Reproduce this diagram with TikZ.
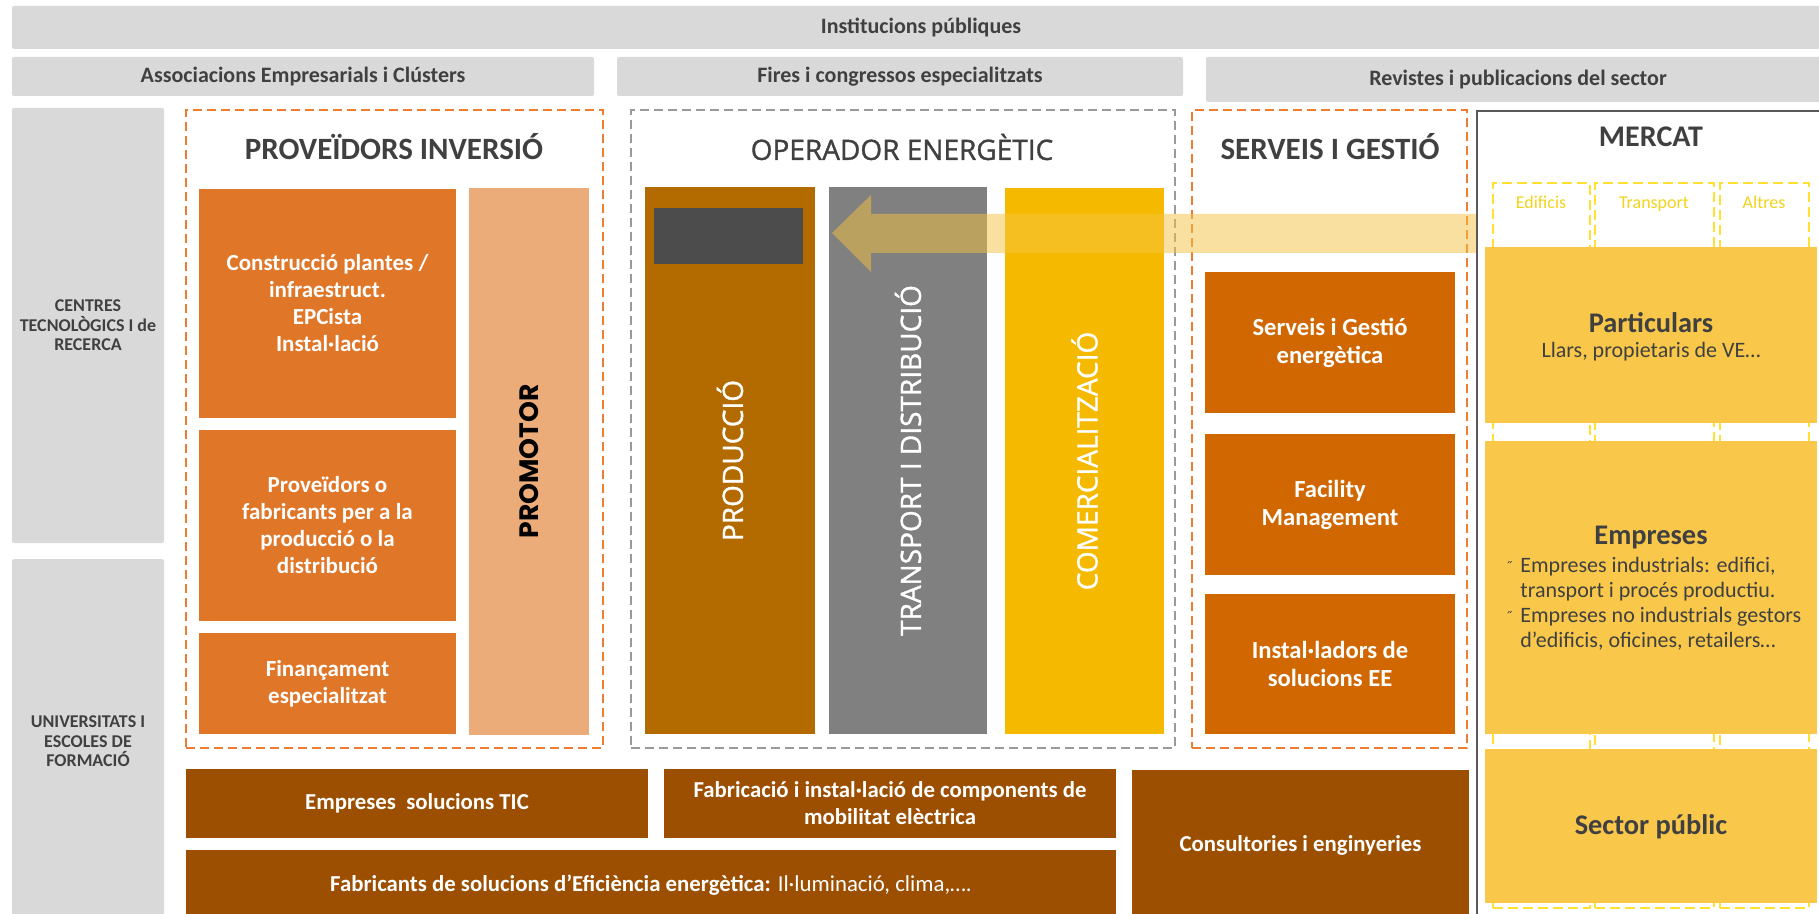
\documentclass[tikz,border=0pt]{standalone}
\usepackage{fontspec}
\setmainfont{Carlito}
\newfontfamily\rotfont[FakeBold=1.2]{Open Sans}
\newfontfamily\promofont{Poppins}
\usetikzlibrary{positioning}
\definecolor{bargrey}{HTML}{D9D9D9}
\definecolor{darktext}{HTML}{404040}
\definecolor{invorange}{HTML}{E07628}
\definecolor{promoorange}{HTML}{EBAC7A}
\definecolor{prodbrown}{HTML}{B36B00}
\definecolor{transgrey}{HTML}{808080}
\definecolor{comyellow}{HTML}{F5BA00}
\definecolor{servorange}{HTML}{D16700}
\definecolor{basebrown}{HTML}{9C4F00}
\definecolor{marketyellow}{HTML}{F9C84B}
\definecolor{frameorange}{HTML}{ED7D31}
\definecolor{framegrey}{HTML}{9A9A9A}
\definecolor{mercatgrey}{HTML}{595959}
\definecolor{dashyellow}{HTML}{FFE033}
\definecolor{labelyellow}{HTML}{F2D31B}
\definecolor{arrowyellow}{HTML}{F5C242}
\tikzset{
    wh/.style 2 args={minimum width=#1*0.5pt, minimum height=#2*0.5pt}
}
\tikzstyle{block} = [
    anchor=north west,
    inner sep=0pt,
    outer sep=0pt,
    align=center
]
\tikzstyle{grey_bar} = [
    block,
    fill=bargrey,
    rounded corners=1pt,
    text=darktext,
    font=\bfseries\fontsize{11}{12}\selectfont
]
\tikzstyle{side_bar} = [
    grey_bar,
    font=\bfseries\fontsize{9}{9.7}\selectfont
]
\tikzstyle{dash_frame} = [
    block,
    draw=frameorange,
    line width=1pt,
    dash pattern=on 4.5pt off 2.5pt
]
\tikzstyle{frame_title} = [
    text=darktext,
    font=\bfseries\fontsize{15.5}{17}\selectfont
]
\tikzstyle{inv_box} = [
    block,
    fill=invorange,
    text=white,
    font=\bfseries\fontsize{11.5}{13.5}\selectfont
]
\tikzstyle{oper_box} = [
    block
]
\tikzstyle{rot_label} = [
    rotate=90,
    text=white,
    font=\rotfont\fontsize{14}{16}\selectfont
]
\tikzstyle{serv_box} = [
    inv_box,
    fill=servorange,
    font=\bfseries\fontsize{12.3}{14}\selectfont
]
\tikzstyle{base_box} = [
    inv_box,
    fill=basebrown,
    font=\bfseries\fontsize{11.4}{13.5}\selectfont
]
\tikzstyle{col_frame} = [
    block,
    draw=dashyellow,
    line width=0.8pt,
    dash pattern=on 5pt off 2.5pt
]
\tikzstyle{col_label} = [
    text=labelyellow,
    text height=1.6ex,
    text depth=0.4ex,
    font=\fontsize{9}{10}\selectfont
]
\tikzstyle{market_box} = [
    block,
    fill=marketyellow
]
\tikzstyle{market_title} = [
    text=darktext,
    font=\bfseries\fontsize{14.2}{16}\selectfont
]
\tikzstyle{market_text} = [
    text=darktext,
    inner sep=0pt,
    font=\fontsize{11}{12.5}\selectfont
]

\begin{document}
\begin{tikzpicture}[x=0.5pt, y=-0.5pt]
\useasboundingbox (0,0) rectangle (1819,914);
\clip (0,0) rectangle (1819,914);

% agents around the value chain
\node[grey_bar, wh={1818}{43}] (inst) at (12,6) {Institucions públiques};
\node[grey_bar, wh={582}{39}] (assoc) at (12,57) {Associacions Empresarials i Clústers};
\node[grey_bar, wh={566}{39}] (fires) at (617,57) {Fires i congressos especialitzats};
\node[grey_bar, wh={624}{45}] (revistes) at (1206,57) {Revistes i publicacions del sector};
\node[side_bar, wh={152}{435}] (centres) at (12,108) {CENTRES\\TECNOLÒGICS I de\\RECERCA};
\node[side_bar, wh={152}{365}] (univ) at (12,559) {UNIVERSITATS I\\ESCOLES DE\\FORMACIÓ};

% proveidors inversio
\node[dash_frame, wh={417}{638}] (prov_frame) at (186,110) {};
\node[frame_title] (prov_title) at (394,147) {PROVEÏDORS INVERSIÓ};
\node[inv_box, wh={257}{229}] (constr) at (199,189) {Construcció plantes /\\infraestruct.\\EPCista\\Instal·lació};
\node[inv_box, wh={257}{191}] (fabr) at (199,430) {Proveïdors o\\fabricants per a la\\producció o la\\distribució};
\node[inv_box, wh={257}{101}] (finan) at (199,633) {Finançament\\especialitzat};
\node[block, fill=promoorange, wh={120}{547}] (promotor) at (469,188) {};
\node[rotate=90, font=\promofont\bfseries\fontsize{13.3}{15}\selectfont] (promotor_label) at (promotor.center) {PROMOTOR};

% operador energetic
\node[dash_frame, draw=framegrey, wh={544}{638}] (oper_frame) at (631,110) {};
\node[frame_title, font=\rotfont\fontsize{14}{16}\selectfont] (oper_title) at (902,147) {OPERADOR ENERGÈTIC};
\node[oper_box, fill=prodbrown, wh={170}{547}] (prod) at (645,187) {};
\node[oper_box, fill=black!70, wh={149}{56}] (prod_screen) at (654,208) {};
\node[rot_label] (prod_label) at (prod.center) {PRODUCCIÓ};
\node[oper_box, fill=transgrey, wh={158}{547}] (transp) at (829,187) {};
\node[rot_label] (transp_label) at (transp.center) {TRANSPORT I DISTRIBUCIÓ};
\node[oper_box, fill=comyellow, wh={159}{546}] (comerc) at (1005,188) {};
\node[rot_label] (comerc_label) at (comerc.center) {COMERCIALITZACIÓ};

% serveis i gestio
\node[dash_frame, wh={275}{638}] (serv_frame) at (1192,110) {};
\node[frame_title] (serv_title) at (1330,147) {SERVEIS I GESTIÓ};
\node[serv_box, wh={250}{141}] (gestio) at (1205,272) {Serveis i Gestió\\energètica};
\node[serv_box, wh={250}{141}] (facility) at (1205,434) {Facility\\Management};
\node[serv_box, wh={250}{140}] (installers) at (1205,594) {Instal·ladors de\\solucions EE};

% transversal suppliers
\node[base_box, wh={462}{69}] (tic) at (186,769) {Empreses\ \ solucions TIC};
\node[base_box, wh={452}{69}] (mobility) at (664,769) {Fabricació i instal·lació de components de\\mobilitat elèctrica};
\node[base_box, wh={930}{70}, font=\fontsize{11.4}{12}\selectfont] (efficiency) at (186,850) {\textbf{Fabricants de solucions d’Eficiència energètica:} Il·luminació, clima,….};
\node[base_box, wh={337}{150}] (consult) at (1132,770) {Consultories i enginyeries};

% flow from the market
\fill[arrowyellow, opacity=0.5] (1477,214) -- (871,214) -- (871,195) -- (832,233) -- (871,272) -- (871,253) -- (1477,253) -- cycle;

% mercat
\node[block, draw=mercatgrey, line width=1pt, wh={370}{830}] (mercat_frame) at (1477,111) {};
\node[market_title, font=\bfseries\fontsize{15}{16}\selectfont] (mercat_title) at (1651,137) {MERCAT};
\node[col_frame, wh={97}{725}] (edificis) at (1493,183) {};
\node[col_frame, wh={119}{725}] (transport) at (1595,183) {};
\node[col_frame, wh={89}{725}] (altres) at (1720,183) {};
\node[col_label] at (1541,203) (edificis_label) {Edificis};
\node[col_label] at (1654,203) (transport_label) {Transport};
\node[col_label] at (1764,203) (altres_label) {Altres};
\node[market_box, wh={332}{176}] (particulars) at (1485,247) {};
\node[market_box, wh={332}{293}] (empreses) at (1485,441) {};
\node[market_box, wh={332}{154}] (sector) at (1485,749) {};
\node[market_title] (particulars_title) at (1651,323) {Particulars};
\node[market_text] (particulars_text) at (1651,352) {Llars, propietaris de VE…};
\node[market_title] (empreses_title) at (1651,538) {Empreses};
\node[market_text, anchor=north west, align=left] (empreses_text) at (1505,557) {\makebox[7.5pt][l]{\fontsize{8}{8}\selectfont ˝}Empreses industrials: edifici,\\\hspace*{7.5pt}transport i procés productiu.\\\makebox[7.5pt][l]{\fontsize{8}{8}\selectfont ˝}Empreses no industrials gestors\\\hspace*{7.5pt}d’edificis, oficines, retailers…};
\node[market_title] (sector_title) at (1651,827) {Sector públic};
\end{tikzpicture}
\end{document}
